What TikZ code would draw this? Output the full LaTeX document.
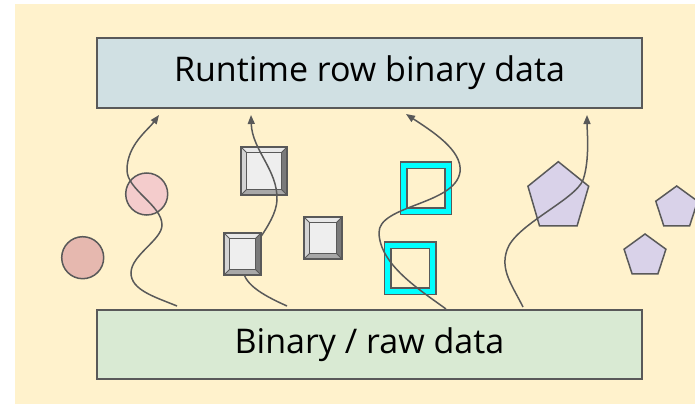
\documentclass[tikz,border=0pt]{standalone}
\usepackage{fontspec}
\setmainfont{Open Sans}
\usetikzlibrary{arrows.meta,positioning,shapes.geometric}
\definecolor{bgcol}{HTML}{FFF2CC}
\definecolor{edgecol}{HTML}{595959}
\definecolor{rowcol}{HTML}{D0E0E3}
\definecolor{rawcol}{HTML}{D9EAD3}
\definecolor{rosecol}{HTML}{E6B8AF}
\definecolor{pinkcol}{HTML}{F4CCCC}
\definecolor{lilaccol}{HTML}{D9D2E9}
\definecolor{facecol}{HTML}{EEEEEE}
\definecolor{aquacol}{HTML}{00FFFF}
\newcommand{\bev}{5.5pt}
\tikzset{
  databox/.style={draw=edgecol,line width=2pt,minimum width=545pt,minimum height=69pt,
    inner sep=0pt,font=\fontsize{34}{40}\selectfont},
  blob/.style={circle,draw=edgecol,line width=1.5pt,minimum size=42pt,inner sep=0pt},
  penta/.style={regular polygon,regular polygon sides=5,draw=edgecol,line width=1.5pt,
    fill=lilaccol,inner sep=0pt},
  bevelbox/.style={draw=edgecol,line width=1.2pt,fill=facecol,inner sep=0pt,
    path picture={
      \path (path picture bounding box.north west) coordinate (bnw)
            (path picture bounding box.north east) coordinate (bne)
            (path picture bounding box.south west) coordinate (bsw)
            (path picture bounding box.south east) coordinate (bse);
      \path ([shift={(\bev,-\bev)}]bnw) coordinate (inw) ([shift={(-\bev,-\bev)}]bne) coordinate (ine)
            ([shift={(\bev,\bev)}]bsw) coordinate (isw) ([shift={(-\bev,\bev)}]bse) coordinate (ise);
      \fill[black!9] (bnw) -- (bne) -- (ine) -- (inw) -- cycle;
      \fill[black!17] (bnw) -- (inw) -- (isw) -- (bsw) -- cycle;
      \fill[black!52] (bne) -- (bse) -- (ise) -- (ine) -- cycle;
      \fill[black!34] (bsw) -- (isw) -- (ise) -- (bse) -- cycle;
      \draw[edgecol,line width=0.8pt] (inw) rectangle (ise) (bnw) -- (inw) (bne) -- (ine)
            (bsw) -- (isw) (bse) -- (ise);
    }},
  framebox/.style={draw=edgecol,line width=1.5pt,fill=aquacol,inner sep=0pt,
    path picture={
      \filldraw[fill=bgcol,draw=edgecol,line width=1.5pt]
        ([shift={(6.5pt,-6.5pt)}]path picture bounding box.north west) rectangle
        ([shift={(-6.5pt,6.5pt)}]path picture bounding box.south east);
    }},
  flow/.style={draw=edgecol,line width=1.5pt,-{Triangle[length=9pt,width=7pt]}}
}

\begin{document}
\begin{tikzpicture}[x=1pt,y=-1pt]
\useasboundingbox (0,0) rectangle (695,404);
\fill[bgcol] (15,4) rectangle (695,404);
% the two layers
\node[databox,fill=rowcol,minimum height=70pt] (runtime) at (369.5,73) {Runtime row binary data};
\node[databox,fill=rawcol,below=200pt of runtime] (raw) {Binary / raw data};
% loose values
\node[blob,fill=rosecol] (dot1) at (82.7,257.7) {};
\node[blob,fill=pinkcol] (dot2) at (146.7,194) {};
\node[bevelbox,minimum width=46pt,minimum height=48pt] (cell1) at (264,171) {};
\node[bevelbox,minimum width=38pt,minimum height=42pt] (cell3) at (323,238) {};
\node[framebox,minimum width=51pt,minimum height=52.5pt] (slot1) at (426,188) {};
\node[framebox,minimum width=51.5pt,minimum height=52.5pt] (slot2) at (410,268) {};
\begin{scope}[shift={(558.3,197.2)},xscale=0.9]
\node[penta,minimum size=71pt,transform shape] (obj1) at (0,0) {};
\end{scope}
\node[penta,minimum size=44pt] (obj2) at (676.7,208) {};
\node[penta,minimum size=44pt] (obj3) at (645,256) {};
% paths from raw up to runtime
\coordinate (s1) at (177,306); \coordinate (e1) at (159,115);
\coordinate (s2) at (287,306); \coordinate (e2) at (251,115);
\coordinate (s3) at (446,309); \coordinate (e3) at (406,114);
\coordinate (s4) at (523,307); \coordinate (e4) at (587,115);
\draw[flow] (s1) .. controls (155,297) and (131,290) .. (131,273)
  .. controls (131,255) and (162,240) .. (162,225)
  .. controls (162,205) and (127,190) .. (127,170)
  .. controls (127,145) and (148,130) .. (e1);
\draw[flow] (s2) .. controls (260,294) and (243,283) .. (243,268)
  .. controls (243,255) and (276,225) .. (277,200)
  .. controls (278,170) and (252,150) .. (e2);
\draw[flow] (s3) .. controls (420,290) and (380,265) .. (379,233)
  .. controls (378,205) and (455,205) .. (460,172)
  .. controls (463,150) and (430,130) .. (e3);
\draw[flow] (s4) .. controls (512,285) and (500,270) .. (507,250)
  .. controls (515,225) and (575,200) .. (583,180)
  .. controls (590,160) and (587,130) .. (e4);
% this one sits over the path
\node[bevelbox,minimum width=37pt,minimum height=42pt] (cell2) at (242.5,254) {};
\end{tikzpicture}
\end{document}
